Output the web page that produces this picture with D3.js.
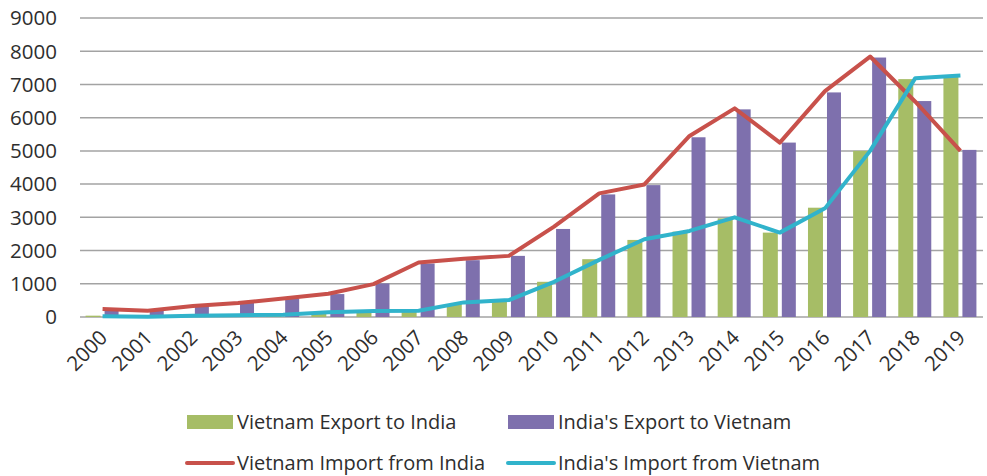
<!DOCTYPE html>
<html>
<head>
<meta charset="utf-8">
<script src="https://cdn.jsdelivr.net/npm/d3@7"></script>
<style>
  body { margin: 0; background: #fff; }
  svg { display: block; font-family: "Open Sans", sans-serif; }
</style>
</head>
<body>
<div id="chart"></div>
<script>
var years = ["2000","2001","2002","2003","2004","2005","2006","2007","2008","2009",
             "2010","2011","2012","2013","2014","2015","2016","2017","2018","2019"];
var vnExport = [40, 10, 40, 50, 60, 130, 150, 170, 390, 460,
                1060, 1740, 2320, 2570, 2970, 2540, 3290, 5000, 7160, 7230];
var inExport = [220, 190, 360, 460, 560, 690, 1010, 1610, 1710, 1840,
                2650, 3690, 3970, 5410, 6250, 5250, 6760, 7810, 6500, 5030];
var vnImport = [240, 190, 330, 420, 560, 700, 990, 1640, 1750, 1840,
                2720, 3720, 3990, 5450, 6280, 5250, 6800, 7840, 6480, 5000];
var inImport = [20, 10, 40, 50, 70, 140, 180, 190, 440, 510,
                1060, 1720, 2340, 2590, 3000, 2540, 3270, 5000, 7190, 7270];
var yTicks = [0, 1000, 2000, 3000, 4000, 5000, 6000, 7000, 8000, 9000];

var colors = { green: "#a6bd66", purple: "#7e70ad", red: "#c8514b", cyan: "#31b3cb" };

var width = 987, height = 476;
var margin = { top: 18, right: 4, bottom: 159, left: 80 };
var plotW = width - margin.left - margin.right;
var plotH = height - margin.top - margin.bottom;

var svg = d3.select("#chart").append("svg")
    .attr("width", width)
    .attr("height", height);

var g = svg.append("g")
    .attr("transform", "translate(" + margin.left + "," + margin.top + ")");

var x = d3.scaleBand().domain(years).range([0, plotW]);
var y = d3.scaleLinear().domain([0, 9000]).range([plotH, 0]);

// gridlines
g.selectAll("line.grid").data(yTicks).enter().append("line")
    .attr("class", "grid")
    .attr("x1", 0).attr("x2", plotW)
    .attr("y1", function(d) { return y(d); })
    .attr("y2", function(d) { return y(d); })
    .attr("stroke", "#a3a3a3")
    .attr("stroke-width", 1.5);

// y labels
g.selectAll("text.ylab").data(yTicks).enter().append("text")
    .attr("class", "ylab")
    .attr("x", -23)
    .attr("y", function(d) { return y(d); })
    .attr("dy", "0.36em")
    .attr("text-anchor", "end")
    .attr("font-size", 20.5)
    .attr("fill", "#2e2e2e")
    .text(function(d) { return d; });

// bars
var barW = 15;
g.selectAll("rect.vn").data(vnExport).enter().append("rect")
    .attr("x", function(d, i) { return x(years[i]) + x.bandwidth() / 2 - 2 - barW; })
    .attr("y", function(d) { return y(d); })
    .attr("width", barW)
    .attr("height", function(d) { return plotH - y(d); })
    .attr("fill", colors.green);

g.selectAll("rect.in").data(inExport).enter().append("rect")
    .attr("x", function(d, i) { return x(years[i]) + x.bandwidth() / 2 + 2; })
    .attr("y", function(d) { return y(d); })
    .attr("width", barW - 1)
    .attr("height", function(d) { return plotH - y(d); })
    .attr("fill", colors.purple);

// lines
var line = d3.line()
    .x(function(d, i) { return x(years[i]) + x.bandwidth() / 2; })
    .y(function(d) { return y(d); });

g.append("path").datum(vnImport)
    .attr("d", line).attr("fill", "none")
    .attr("stroke", colors.red).attr("stroke-width", 4)
    .attr("stroke-linejoin", "round");

g.append("path").datum(inImport)
    .attr("d", line).attr("fill", "none")
    .attr("stroke", colors.cyan).attr("stroke-width", 4)
    .attr("stroke-linejoin", "round");

// x labels
g.selectAll("text.xlab").data(years).enter().append("text")
    .attr("class", "xlab")
    .attr("transform", function(d) {
        return "translate(" + (x(d) + x.bandwidth() / 2 + 6) + "," + (plotH + 22) + ") rotate(-45)";
    })
    .attr("text-anchor", "end")
    .attr("font-size", 20.5)
    .attr("fill", "#2e2e2e")
    .text(function(d) { return d; });

// legend
var legend = [
    { label: "Vietnam Export to India", color: colors.green, type: "bar", x: 187, y: 422 },
    { label: "India's Export to Vietnam", color: colors.purple, type: "bar", x: 508, y: 422 },
    { label: "Vietnam Import from India", color: colors.red, type: "line", x: 187, y: 463 },
    { label: "India's Import from Vietnam", color: colors.cyan, type: "line", x: 508, y: 463 }
];

var items = svg.selectAll("g.legend").data(legend).enter().append("g")
    .attr("class", "legend")
    .attr("transform", function(d) { return "translate(" + d.x + "," + d.y + ")"; });

items.each(function(d) {
    var item = d3.select(this);
    if (d.type === "bar") {
        item.append("rect").attr("x", 0).attr("y", -7).attr("width", 46).attr("height", 14).attr("fill", d.color);
    } else {
        item.append("line").attr("x1", 0).attr("x2", 46).attr("y1", 0).attr("y2", 0)
            .attr("stroke", d.color).attr("stroke-width", 4).attr("stroke-linecap", "round");
    }
    item.append("text")
        .attr("x", 50).attr("dy", "0.36em")
        .attr("font-size", 20)
        .attr("fill", "#2e2e2e")
        .text(d.label);
});
</script>
</body>
</html>
